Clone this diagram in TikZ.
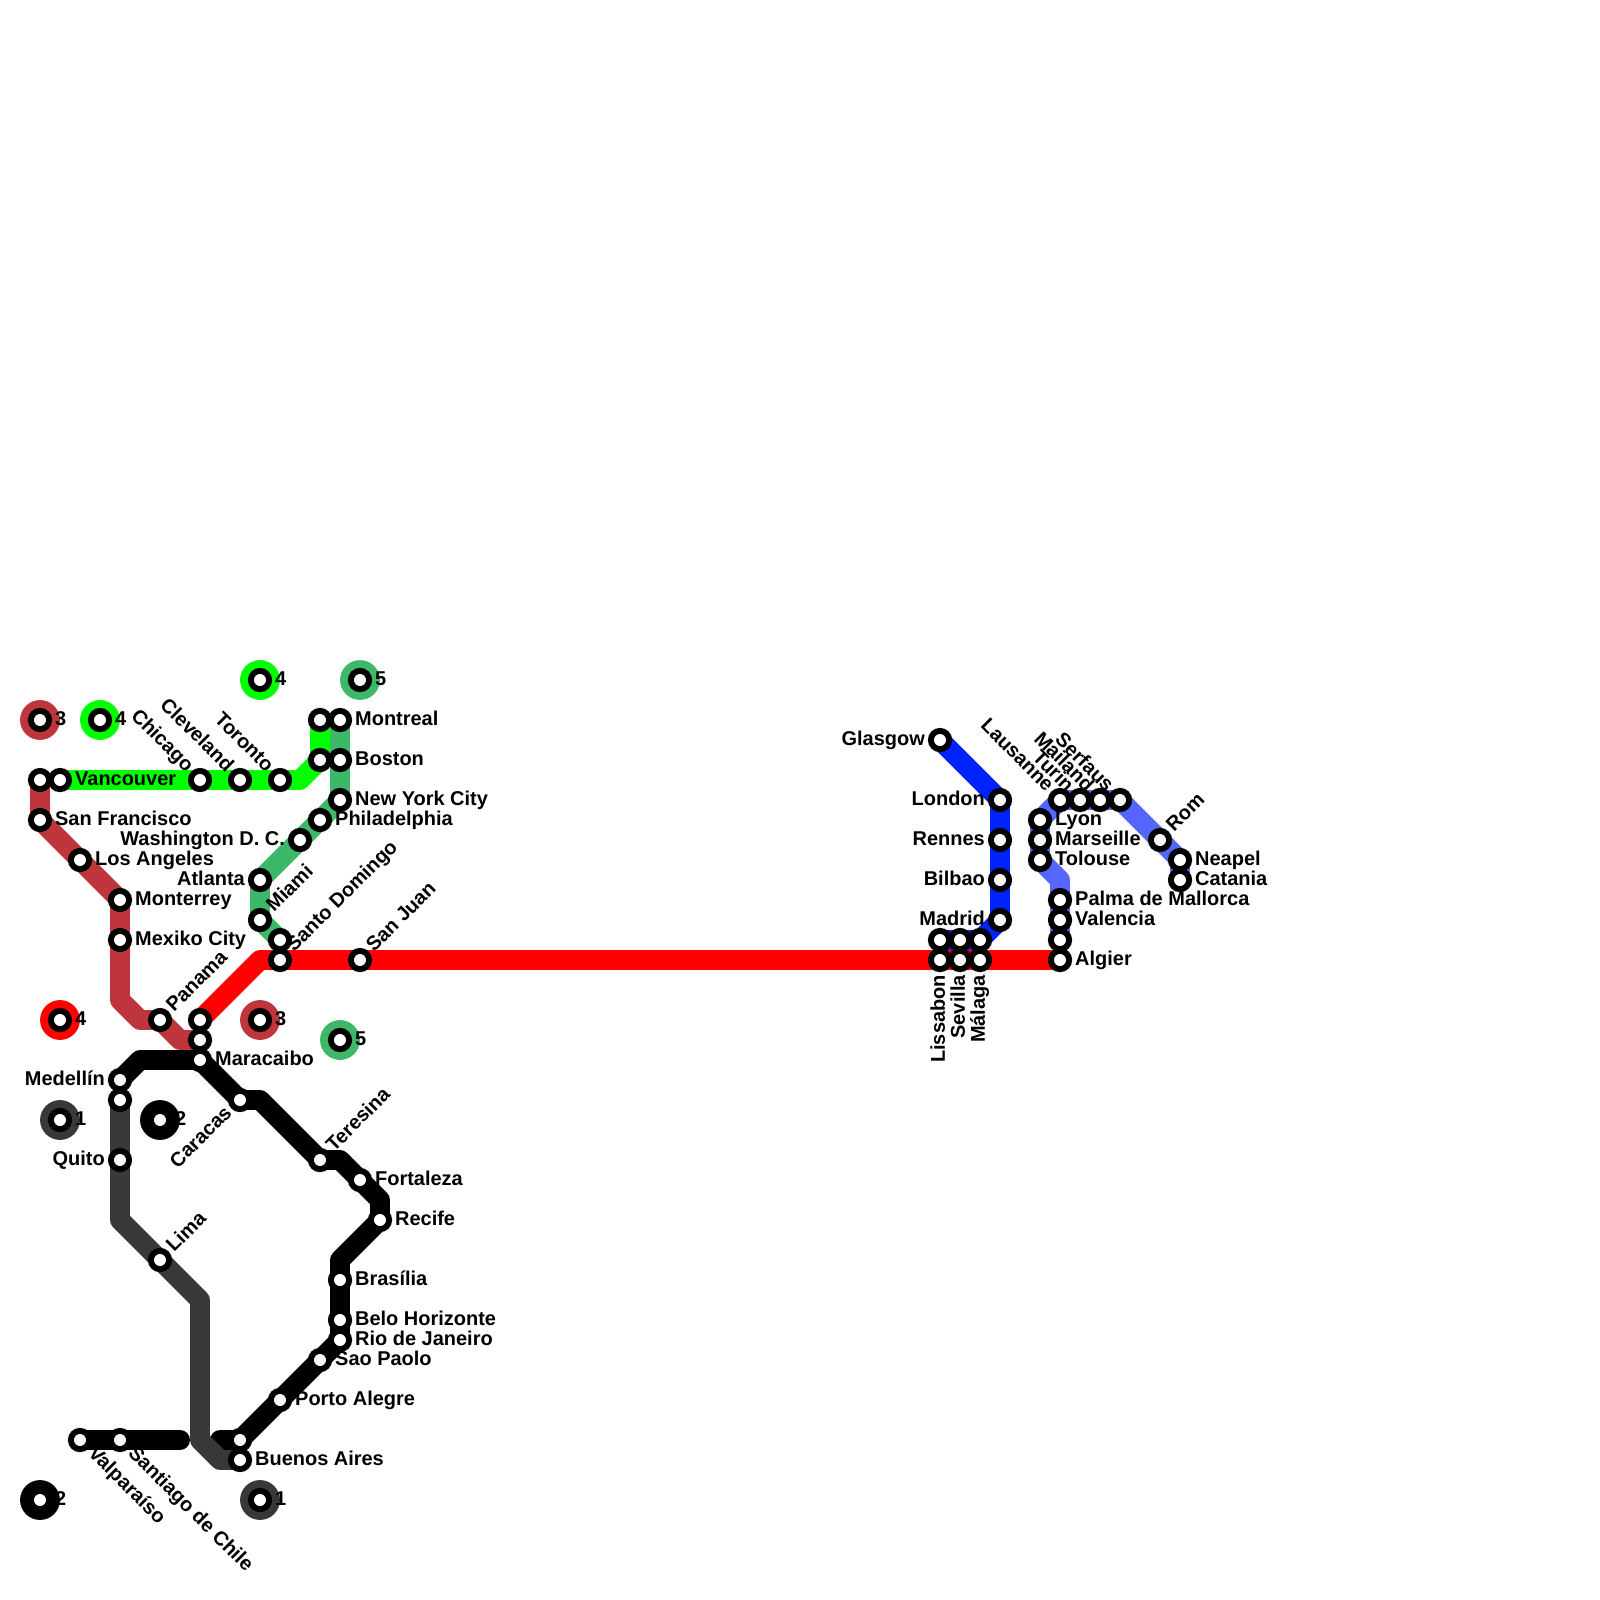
\documentclass[tikz,border=0pt]{standalone}
\usepackage{fontspec}
\setsansfont{Liberation Sans}
\usepackage{xcolor}
\usepackage{tikz}
\usetikzlibrary{backgrounds}

\definecolor{lineone}{RGB}{56,56,56}
\definecolor{linetwo}{RGB}{0,0,0}
\definecolor{linethree}{RGB}{190,54,60}
\definecolor{linefour}{RGB}{0,255,0}
\definecolor{linefive}{RGB}{60,184,104}
\definecolor{linered}{RGB}{255,0,0}
\definecolor{lineblue}{RGB}{0,34,255}
\definecolor{linesky}{RGB}{85,102,255}

\begin{document}
\begin{tikzpicture}[x=0.5cm, y=-0.5cm,
        station/.style={draw=black, circle, line width=4.2pt, fill=white, minimum size=13pt, inner sep=0pt, outer sep=0pt},
        halo/.style={circle, minimum size=28.35pt, inner sep=0pt, outer sep=0pt},
        metro/.style={line width=14.17pt, line join=round, line cap=round},
        namebase/.style={font=\sffamily\bfseries\fontsize{14.2}{16}\selectfont, text=black, inner ysep=0pt, inner xsep=10.6pt, text height=10.4pt, text depth=2.6pt},
        namerot/.style={namebase, text height=10pt, text depth=3pt},
        nameE/.style={namebase, anchor=west},
        nameW/.style={namebase, anchor=east},
        nameNE/.style={namerot, anchor=west, rotate=45},
        nameNW/.style={namerot, anchor=east, rotate=-45},
        nameSE/.style={namerot, anchor=west, rotate=-45},
        nameSW/.style={namerot, anchor=east, rotate=45},
        nameS/.style={namerot, anchor=east, rotate=90}
    ]
    \useasboundingbox (0,0) rectangle (80,80);

    % Legend
    \node[halo, fill=linethree] (halothreea) at (2,36) {};
    \node[halo, fill=linefour] (halofoura) at (5,36) {};
    \node[halo, fill=linefour] (halofourb) at (13,34) {};
    \node[halo, fill=linefive] (halofivea) at (18,34) {};
    \node[halo, fill=linered] (haloreda) at (3,51) {};
    \node[halo, fill=linethree] (halothreeb) at (13,51) {};
    \node[halo, fill=linefive] (halofiveb) at (17,52) {};
    \node[halo, fill=lineone] (haloonea) at (3,56) {};
    \node[halo, fill=linetwo] (halotwoa) at (8,56) {};
    \node[halo, fill=linetwo] (halotwob) at (2,75) {};
    \node[halo, fill=lineone] (halooneb) at (13,75) {};
    \node[station] (legthreea) at (2,36) {};
    \node[station] (legfoura) at (5,36) {};
    \node[station] (legfourb) at (13,34) {};
    \node[station] (legfivea) at (18,34) {};
    \node[station] (legreda) at (3,51) {};
    \node[station] (legthreeb) at (13,51) {};
    \node[station] (legfiveb) at (17,52) {};
    \node[station] (legonea) at (3,56) {};
    \node[station] (legtwoa) at (8,56) {};
    \node[station] (legtwob) at (2,75) {};
    \node[station] (legoneb) at (13,75) {};

    % Line 3 stations
    \node[station] (westend) at (2,39) {};
    \node[station] (sanfrancisco) at (2,41) {};
    \node[station] (losangeles) at (4,43) {};
    \node[station] (monterrey) at (6,45) {};
    \node[station] (mexiko) at (6,47) {};
    \node[station] (panama) at (8,51) {};
    \node[station] (junctionb) at (10,52) {};

    % Line 4 stations
    \node[station] (vancouver) at (3,39) {};
    \node[station] (chicago) at (10,39) {};
    \node[station] (cleveland) at (12,39) {};
    \node[station] (toronto) at (14,39) {};
    \node[station] (eastb) at (16,38) {};
    \node[station] (easta) at (16,36) {};

    % Line 5 stations
    \node[station] (montreal) at (17,36) {};
    \node[station] (boston) at (17,38) {};
    \node[station] (newyork) at (17,40) {};
    \node[station] (philadelphia) at (16,41) {};
    \node[station] (washington) at (15,42) {};
    \node[station] (atlanta) at (13,44) {};
    \node[station] (miami) at (13,46) {};
    \node[station] (greenend) at (14,47) {};

    % Red line stations
    \node[station] (junctiona) at (10,51) {};
    \node[station] (santodomingo) at (14,48) {};
    \node[station] (sanjuan) at (18,48) {};
    \node[station] (lissabon) at (47,48) {};
    \node[station] (sevilla) at (48,48) {};
    \node[station] (malaga) at (49,48) {};
    \node[station] (algier) at (53,48) {};

    % Blue line stations
    \node[station] (glasgow) at (47,37) {};
    \node[station] (london) at (50,40) {};
    \node[station] (rennes) at (50,42) {};
    \node[station] (bilbao) at (50,44) {};
    \node[station] (madrid) at (50,46) {};
    \node[station] (ibericc) at (49,47) {};
    \node[station] (iberib) at (48,47) {};
    \node[station] (iberia) at (47,47) {};

    % Light blue line stations
    \node[station] (catania) at (59,44) {};
    \node[station] (neapel) at (59,43) {};
    \node[station] (rom) at (58,42) {};
    \node[station] (serfaus) at (56,40) {};
    \node[station] (mailand) at (55,40) {};
    \node[station] (turin) at (54,40) {};
    \node[station] (lausanne) at (53,40) {};
    \node[station] (lyon) at (52,41) {};
    \node[station] (marseille) at (52,42) {};
    \node[station] (tolouse) at (52,43) {};
    \node[station] (palma) at (53,45) {};
    \node[station] (valencia) at (53,46) {};
    \node[station] (mediterran) at (53,47) {};

    % Line 2 stations
    \node[station] (medellin) at (6,54) {};
    \node[station] (maracaibo) at (10,53) {};
    \node[station] (caracas) at (12,55) {};
    \node[station] (teresina) at (16,58) {};
    \node[station] (fortaleza) at (18,59) {};
    \node[station] (recife) at (19,61) {};
    \node[station] (brasilia) at (17,64) {};
    \node[station] (belo) at (17,66) {};
    \node[station] (rio) at (17,67) {};
    \node[station] (saopaolo) at (16,68) {};
    \node[station] (porto) at (14,70) {};
    \node[station] (southb) at (12,72) {};
    \node[station] (valparaiso) at (4,72) {};
    \node[station] (santiago) at (6,72) {};

    % Line 1 stations
    \node[station] (northa) at (6,55) {};
    \node[station] (quito) at (6,58) {};
    \node[station] (lima) at (8,63) {};
    \node[station] (buenosaires) at (12,73) {};

    % Bends
    \coordinate (threebenda) at (6,50);
    \coordinate (threebendb) at (7,51);
    \coordinate (threebendc) at (9,52);
    \coordinate (fourbend) at (15,39);
    \coordinate (redbend) at (13,48);
    \coordinate (skybend) at (53,44);
    \coordinate (twobenda) at (7,53);
    \coordinate (twobendb) at (13,55);
    \coordinate (twobendc) at (17,58);
    \coordinate (twobendd) at (19,60);
    \coordinate (twobende) at (17,63);
    \coordinate (twotail) at (9,72);
    \coordinate (twostub) at (11,72);
    \coordinate (onebenda) at (6,61);
    \coordinate (onebendb) at (10,65);
    \coordinate (onebendc) at (10,72);
    \coordinate (onebendd) at (11,73);

    % Lines
    \begin{scope}[on background layer]
        \draw[metro, linefive] (montreal.center) -- (newyork.center) -- (atlanta.center) -- (miami.center) -- (greenend.center);
        \draw[metro, linefour] (vancouver.center) -- (fourbend) -- (eastb.center) -- (easta.center);
        \draw[metro, linethree] (westend.center) -- (sanfrancisco.center) -- (monterrey.center) -- (threebenda) -- (threebendb) -- (panama.center) -- (threebendc) -- (junctionb.center);
        \draw[metro, lineblue] (glasgow.center) -- (london.center) -- (madrid.center) -- (ibericc.center) -- (iberia.center);
        \draw[metro, linesky] (catania.center) -- (neapel.center) -- (serfaus.center) -- (lausanne.center) -- (lyon.center) -- (tolouse.center) -- (skybend) -- (mediterran.center);
        \draw[metro, linered] (junctiona.center) -- (redbend) -- (algier.center);
        \draw[metro, linetwo] (medellin.center) -- (twobenda) -- (maracaibo.center) -- (caracas.center) -- (twobendb) -- (teresina.center) -- (twobendc) -- (twobendd) -- (recife.center) -- (twobende) -- (rio.center) -- (southb.center) -- (twostub);
        \draw[metro, linetwo] (valparaiso.center) -- (twotail);
        \draw[metro, lineone] (northa.center) -- (onebenda) -- (onebendb) -- (onebendc) -- (onebendd) -- (buenosaires.center);
    \end{scope}

    % Legend numbers
    \node[nameE] (numthreea) at (legthreea) {3};
    \node[nameE] (numfoura) at (legfoura) {4};
    \node[nameE] (numfourb) at (legfourb) {4};
    \node[nameE] (numfivea) at (legfivea) {5};
    \node[nameE] (numreda) at (legreda) {4};
    \node[nameE] (numthreeb) at (legthreeb) {3};
    \node[nameE] (numfiveb) at (legfiveb) {5};
    \node[nameE] (numonea) at (legonea) {1};
    \node[nameE] (numtwoa) at (legtwoa) {2};
    \node[nameE] (numtwob) at (legtwob) {2};
    \node[nameE] (numoneb) at (legoneb) {1};

    % Station names
    \node[nameE] (nsanfrancisco) at (sanfrancisco) {San Francisco};
    \node[nameE] (nlosangeles) at (losangeles) {Los Angeles};
    \node[nameE] (nmonterrey) at (monterrey) {Monterrey};
    \node[nameE] (nmexiko) at (mexiko) {Mexiko City};
    \node[nameNE] (npanama) at (panama) {Panama};
    \node[nameE] (nvancouver) at (vancouver) {Vancouver};
    \node[nameNW] (nchicago) at (chicago) {Chicago};
    \node[nameNW] (ncleveland) at (cleveland) {Cleveland};
    \node[nameNW] (ntoronto) at (toronto) {Toronto};
    \node[nameE] (nmontreal) at (montreal) {Montreal};
    \node[nameE] (nboston) at (boston) {Boston};
    \node[nameE] (nnewyork) at (newyork) {New York City};
    \node[nameE] (nphiladelphia) at (philadelphia) {Philadelphia};
    \node[nameW] (nwashington) at (washington) {Washington D. C.};
    \node[nameW] (natlanta) at (atlanta) {Atlanta};
    \node[nameNE] (nmiami) at (miami) {Miami};
    \node[nameNE] (nsantodomingo) at (santodomingo) {Santo Domingo};
    \node[nameNE] (nsanjuan) at (sanjuan) {San Juan};
    \node[nameS] (nlissabon) at (lissabon) {Lissabon};
    \node[nameS] (nsevilla) at (sevilla) {Sevilla};
    \node[nameS] (nmalaga) at (malaga) {Málaga};
    \node[nameE] (nalgier) at (algier) {Algier};
    \node[nameW] (nglasgow) at (glasgow) {Glasgow};
    \node[nameW] (nlondon) at (london) {London};
    \node[nameW] (nrennes) at (rennes) {Rennes};
    \node[nameW] (nbilbao) at (bilbao) {Bilbao};
    \node[nameW] (nmadrid) at (madrid) {Madrid};
    \node[nameE] (ncatania) at (catania) {Catania};
    \node[nameE] (nneapel) at (neapel) {Neapel};
    \node[nameNE] (nrom) at (rom) {Rom};
    \node[nameNW] (nserfaus) at (serfaus) {Serfaus};
    \node[nameNW] (nmailand) at (mailand) {Mailand};
    \node[nameNW] (nturin) at (turin) {Turin};
    \node[nameNW] (nlausanne) at (lausanne) {Lausanne};
    \node[nameE] (nlyon) at (lyon) {Lyon};
    \node[nameE] (nmarseille) at (marseille) {Marseille};
    \node[nameE] (ntolouse) at (tolouse) {Tolouse};
    \node[nameE] (npalma) at (palma) {Palma de Mallorca};
    \node[nameE] (nvalencia) at (valencia) {Valencia};
    \node[nameW] (nmedellin) at (medellin) {Medellín};
    \node[nameE] (nmaracaibo) at (maracaibo) {Maracaibo};
    \node[nameSW] (ncaracas) at (caracas) {Caracas};
    \node[nameNE] (nteresina) at (teresina) {Teresina};
    \node[nameE] (nfortaleza) at (fortaleza) {Fortaleza};
    \node[nameE] (nrecife) at (recife) {Recife};
    \node[nameE] (nbrasilia) at (brasilia) {Brasília};
    \node[nameE] (nbelo) at (belo) {Belo Horizonte};
    \node[nameE] (nrio) at (rio) {Rio de Janeiro};
    \node[nameE] (nsaopaolo) at (saopaolo) {Sao Paolo};
    \node[nameE] (nporto) at (porto) {Porto Alegre};
    \node[nameE] (nbuenosaires) at (buenosaires) {Buenos Aires};
    \node[nameSE] (nvalparaiso) at (valparaiso) {Valparaíso};
    \node[nameSE] (nsantiago) at (santiago) {Santiago de Chile};
    \node[nameW] (nquito) at (quito) {Quito};
    \node[nameNE] (nlima) at (lima) {Lima};
\end{tikzpicture}
\end{document}
